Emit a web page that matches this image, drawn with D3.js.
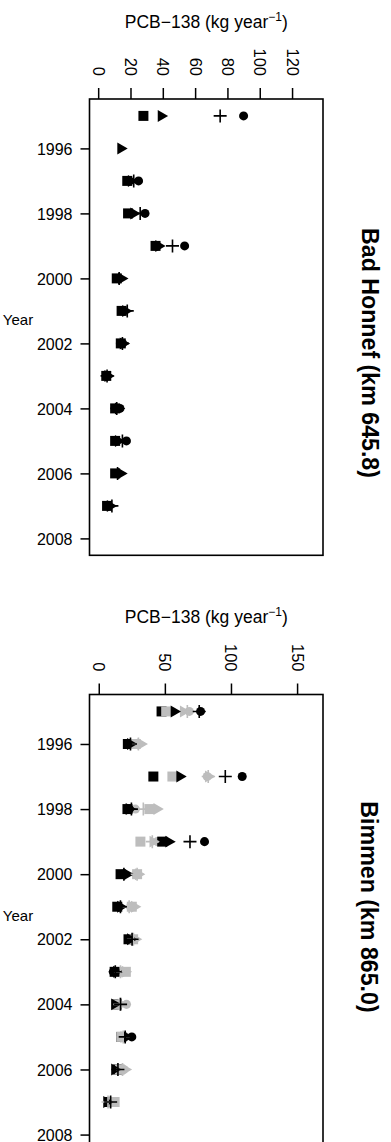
<!DOCTYPE html>
<html>
<head>
<meta charset="utf-8">
<script src="https://cdn.jsdelivr.net/npm/d3@7"></script>
<style>
  body { margin: 0; background: #fff; }
  svg { display: block; }
</style>
</head>
<body>
<div id="chart"></div>
<script>
// PCB-138 loads (kg/year)
const years = [1995, 1996, 1997, 1998, 1999, 2000, 2001, 2002, 2003, 2004, 2005, 2006, 2007];
const yearTicks = [1996, 1998, 2000, 2002, 2004, 2006, 2008];
const bhTicks = [0, 20, 40, 60, 80, 100, 120];
const bmTicks = [0, 50, 100, 150];

// Bad Honnef (km 645.8)
const bhSquare   = [28, null, 18, 18.5, 35.5, 11.5, 14.5, 14, 5, 10.5, 10.5, 10.5, 5.5];
const bhTriangle = [39, 14, 20.5, 22, 37.5, 14.5, 17, 15.5, 6, 12.5, 12.5, 14, 7.5];
const bhPlus     = [75.5, null, 22, 26, 46, 13, 18, 15, 5.5, 11.5, 15, 12, 8.5];
const bhCircle   = [90, null, 25, 29, 53.5, 12.5, 15, 15, 5.5, 13.5, 17.5, 12, 6];

// Bimmen (km 865.0), black
const bmSquare   = [47.5, 22, 41.3, 21.7, 48, 16.5, 14, 22.5, 12, 13.5, 17, 14.5, 8];
const bmTriangle = [57, 24, 61.3, 23, 53, 21.5, 16.5, 24, 13.5, 12, 21, 12, 6];
const bmPlus     = [76, 24, 95.7, 24.7, 69, 19, 16.4, 25.2, 12.5, 16.5, 20, 14.5, 9];
const bmCircle   = [77, 24, 108.5, 23.2, 80, 18, 15, 24, 11, 14, 25, 15, 8];
// Bimmen (km 865.0), grey
const bmSquareG   = [51, 28, 55.7, 38.3, 31.5, 29, 25, 26, 20.5, 13.5, 17, 16, 12];
const bmTriangleG = [64, 32, 83, 44, 41, 30, 27, 27.7, 20, 17, 19, 20, 10];
const bmPlusG     = [67, 30, 82.8, 33.7, 40.5, 29, 23, 26.2, 16.4, 16, 18.5, 18, 7];
const bmCircleG   = [68.5, 29, 82, 27.7, 44.3, 28, 24, 26, 17, 21, 20, 19, 8];

const width = 391, height = 1142;
const font = '"Liberation Sans", Arial, Helvetica, sans-serif';
const grey = '#bdbdbd';

const svg = d3.select('#chart').append('svg')
  .attr('width', width)
  .attr('height', height);

const symbols = {
  square: d3.symbol(d3.symbolSquare, 100)(),
  triangle: d3.symbol(d3.symbolTriangle, 62)(),
  circle: d3.symbol(d3.symbolCircle, 64)(),
  plus: 'M-6.5,0H6.5M0,-6.5V6.5'
};

const panels = [
  {
    title: 'Bad Honnef (km 645.8)', titleX: 370, titleY: 353,
    top: 99, bottom: 555.3, xDomain: [-5.37, 139.15], ticks: bhTicks,
    series: [
      { v: bhSquare, shape: 'square', col: 'black' },
      { v: bhCircle, shape: 'circle', col: 'black' },
      { v: bhTriangle, shape: 'triangle', col: 'black' },
      { v: bhPlus, shape: 'plus', col: 'black' }
    ]
  },
  {
    title: 'Bimmen (km 865.0)', titleX: 369, titleY: 907,
    top: 694.5, bottom: 1151.5, xDomain: [-7.0, 169.6], ticks: bmTicks,
    series: [
      { v: bmCircleG, shape: 'circle', col: grey },
      { v: bmSquare, shape: 'square', col: 'black' },
      { v: bmCircle, shape: 'circle', col: 'black' },
      { v: bmSquareG, shape: 'square', col: grey },
      { v: bmTriangleG, shape: 'triangle', col: grey },
      { v: bmTriangle, shape: 'triangle', col: 'black' },
      { v: bmPlusG, shape: 'plus', col: grey },
      { v: bmPlus, shape: 'plus', col: 'black' }
    ]
  }
];

const left = 89.5, right = 323;

panels.forEach(p => {
  const x = d3.scaleLinear().domain(p.xDomain).range([left, right]);
  const y = d3.scaleLinear().domain([1994.48, 2008.52]).range([p.top, p.bottom]);
  const g = svg.append('g');

  // value axis on top, labels turned
  const xAxis = g.append('g')
    .attr('transform', `translate(0,${p.top})`)
    .call(d3.axisTop(x).tickValues(p.ticks).tickSize(11).tickSizeOuter(0))
    .attr('font-family', font)
    .attr('font-size', 16.5);
  xAxis.select('.domain').remove();
  xAxis.selectAll('line').attr('stroke-width', 1.5);
  xAxis.selectAll('text')
    .attr('x', 0).attr('y', 0).attr('dy', null)
    .attr('text-anchor', 'end')
    .attr('dominant-baseline', 'central')
    .attr('transform', 'translate(0,-23) rotate(90)')
    .attr('fill', 'black');

  // year axis
  const yAxis = g.append('g')
    .attr('transform', `translate(${left},0)`)
    .call(d3.axisLeft(y).tickValues(yearTicks).tickSize(9).tickSizeOuter(0).tickFormat(d3.format('d')))
    .attr('font-family', font)
    .attr('font-size', 16);
  yAxis.select('.domain').remove();
  yAxis.selectAll('line').attr('stroke-width', 1.5);
  yAxis.selectAll('text').attr('x', -17).attr('dy', '0.35em').attr('fill', 'black');

  // box
  g.append('rect')
    .attr('x', left).attr('y', p.top)
    .attr('width', right - left).attr('height', p.bottom - p.top)
    .attr('fill', 'none').attr('stroke', 'black').attr('stroke-width', 1.6);

  // axis titles
  const at = g.append('text')
    .attr('x', (left + right) / 2)
    .attr('y', p.top - 71.5)
    .attr('text-anchor', 'middle')
    .attr('font-family', font)
    .attr('font-size', 17.5);
  at.append('tspan').text('PCB\u2212138 (kg year');
  at.append('tspan').attr('dy', -7).attr('font-size', 12).text('\u22121');
  at.append('tspan').attr('dy', 7).text(')');

  g.append('text')
    .attr('x', 18)
    .attr('y', (p.top + p.bottom) / 2 - 8)
    .attr('text-anchor', 'middle')
    .attr('dominant-baseline', 'central')
    .attr('font-family', font)
    .attr('font-size', 15)
    .text('Year');

  g.append('text')
    .attr('transform', `translate(${p.titleX},${p.titleY}) rotate(90)`)
    .attr('text-anchor', 'middle')
    .attr('dominant-baseline', 'central')
    .attr('font-family', font)
    .attr('font-weight', 'bold')
    .attr('font-size', 23.2)
    .text(p.title);

  // points
  p.series.forEach(s => {
    const pts = years.map((yr, i) => ({ yr, val: s.v[i] })).filter(d => d.val != null);
    g.append('g')
      .selectAll('path')
      .data(pts)
      .join('path')
      .attr('d', symbols[s.shape])
      .attr('transform', d => `translate(${x(d.val)},${y(d.yr)})` + (s.shape === 'triangle' ? ' rotate(90)' : ''))
      .attr('fill', s.shape === 'plus' ? 'none' : s.col)
      .attr('stroke', s.shape === 'plus' ? s.col : 'none')
      .attr('stroke-width', 1.6);
  });
});
</script>
</body>
</html>
